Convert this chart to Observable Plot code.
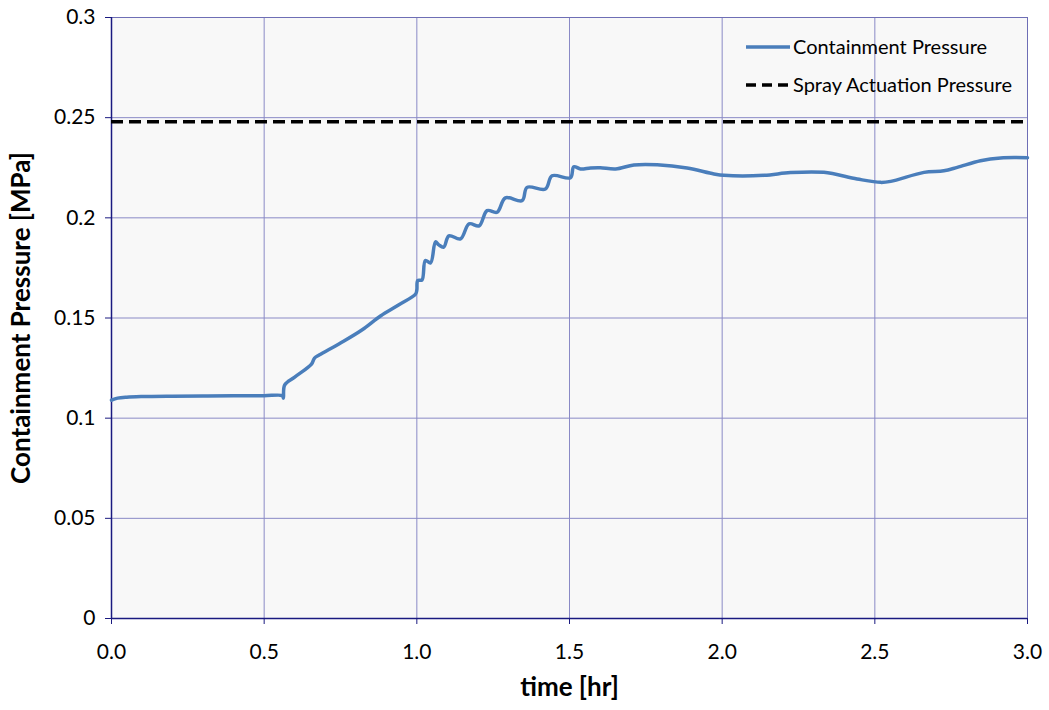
<!DOCTYPE html>
<html>
<head>
<meta charset="utf-8">
<script src="https://cdn.jsdelivr.net/npm/d3@7"></script>
<script src="https://cdn.jsdelivr.net/npm/@observablehq/plot@0.6"></script>
<style>
  html, body { margin: 0; padding: 0; background: #fff; }
  #wrap { position: relative; width: 1049px; height: 710px; font-family: Lato, "Open Sans", sans-serif; }
  #legend { position: absolute; left: 740px; top: 32px; }
</style>
</head>
<body>
<div id="wrap"></div>
<script>
// ---- data ----
const time = [0.000, 0.020, 0.050, 0.100, 0.200, 0.300, 0.400, 0.500, 0.560, 0.563, 0.567, 0.600, 0.655, 0.665, 0.680, 0.750, 0.820, 0.881, 0.940, 0.996, 1.000, 1.003, 1.017, 1.028, 1.045, 1.061, 1.072, 1.088, 1.105, 1.143, 1.171, 1.204, 1.230, 1.263, 1.290, 1.345, 1.361, 1.421, 1.443, 1.503, 1.514, 1.536, 1.569, 1.601, 1.651, 1.711, 1.787, 1.885, 1.973, 2.006, 2.137, 2.224, 2.333, 2.442, 2.519, 2.552, 2.661, 2.726, 2.770, 2.846, 2.912, 3.000];
const pressure = [0.1090, 0.1100, 0.1105, 0.1108, 0.1110, 0.1111, 0.1112, 0.1112, 0.1112, 0.1100, 0.1165, 0.1205, 0.1270, 0.1300, 0.1315, 0.1375, 0.1440, 0.1510, 0.1565, 0.1620, 0.1640, 0.1687, 0.1690, 0.1787, 0.1775, 0.1880, 0.1865, 0.1854, 0.1910, 0.1895, 0.1970, 0.1960, 0.2036, 0.2028, 0.2100, 0.2086, 0.2152, 0.2144, 0.2210, 0.2200, 0.2255, 0.2244, 0.2249, 0.2250, 0.2244, 0.2264, 0.2265, 0.2249, 0.2219, 0.2212, 0.2212, 0.2226, 0.2227, 0.2194, 0.2177, 0.2182, 0.2227, 0.2235, 0.2252, 0.2285, 0.2299, 0.2300];
const sprayPressure = 0.248;
const xTicks = [0, 0.5, 1.0, 1.5, 2.0, 2.5, 3.0];
const yTicks = [0, 0.05, 0.1, 0.15, 0.2, 0.25, 0.3];
const yTickLabels = ["0", "0.05", "0.1", "0.15", "0.2", "0.25", "0.3"];
const seriesNames = ["Containment Pressure", "Spray Actuation Pressure"];

const rows = time.map((t, i) => ({t, p: pressure[i]}));
const gridColor = "#8a8ac6";
const axisColor = "#1a1a80";

const chart = Plot.plot({
  width: 1049,
  height: 710,
  marginLeft: 111,
  marginRight: 22,
  marginTop: 17,
  marginBottom: 92,
  style: {fontFamily: "Lato, 'Open Sans', sans-serif", fontSize: "21px", color: "#000", background: "#fff"},
  x: {domain: [0, 3], label: null},
  y: {domain: [0, 0.3], label: null},
  marks: [
    Plot.frame({fill: "#f8f8f8", stroke: null}),
    Plot.ruleX(xTicks, {stroke: gridColor, strokeWidth: 1}),
    Plot.ruleY(yTicks, {stroke: gridColor, strokeWidth: 1}),
    Plot.frame({stroke: "#6e6eb5", strokeWidth: 1}),
    Plot.ruleX([0], {stroke: axisColor, strokeWidth: 1.5}),
    Plot.ruleY([0], {stroke: axisColor, strokeWidth: 1.5}),
    Plot.axisX({ticks: xTicks, tickFormat: d3.format(".1f"), tickSize: 6, tickPadding: 20, stroke: axisColor, fontSize: 21, fill: "#000"}),
    Plot.axisY({ticks: yTicks, tickFormat: (d) => yTickLabels[yTicks.indexOf(d)], tickSize: 6, tickPadding: 10, stroke: axisColor, fontSize: 21, fill: "#000"}),
    Plot.ruleY([sprayPressure], {stroke: "#000", strokeWidth: 3.5, strokeDasharray: "12,6"}),
    Plot.line(rows, {x: "t", y: "p", curve: "catmull-rom", stroke: "#4a7ebb", strokeWidth: 3.5, strokeLinejoin: "round", strokeLinecap: "round"}),
    Plot.text(["time [hr]"], {frameAnchor: "bottom", dy: 77, fontWeight: "bold", fontSize: 26, fill: "#000"}),
    Plot.text(["Containment Pressure [MPa]"], {frameAnchor: "left", dx: -90, rotate: -90, textAnchor: "middle", fontWeight: "bold", fontSize: 26, fill: "#000"})
  ]
});
document.getElementById("wrap").appendChild(chart);

// legend overlay
const leg = d3.select("#wrap").append("svg").attr("id", "legend").attr("width", 300).attr("height", 70)
  .style("font-family", "Lato, 'Open Sans', sans-serif");
const legStyles = [
  {stroke: "#4a7ebb", dash: null},
  {stroke: "#000", dash: "10,6"}
];
seriesNames.forEach((name, i) => {
  const y = 15 + i * 38;
  leg.append("line").attr("x1", 6).attr("x2", 50).attr("y1", y).attr("y2", y)
    .attr("stroke", legStyles[i].stroke).attr("stroke-width", 3.5)
    .attr("stroke-dasharray", legStyles[i].dash);
  leg.append("text").attr("x", 53).attr("y", y).attr("dy", "0.35em")
    .attr("font-size", 20).attr("fill", "#000").text(name);
});
</script>
</body>
</html>
